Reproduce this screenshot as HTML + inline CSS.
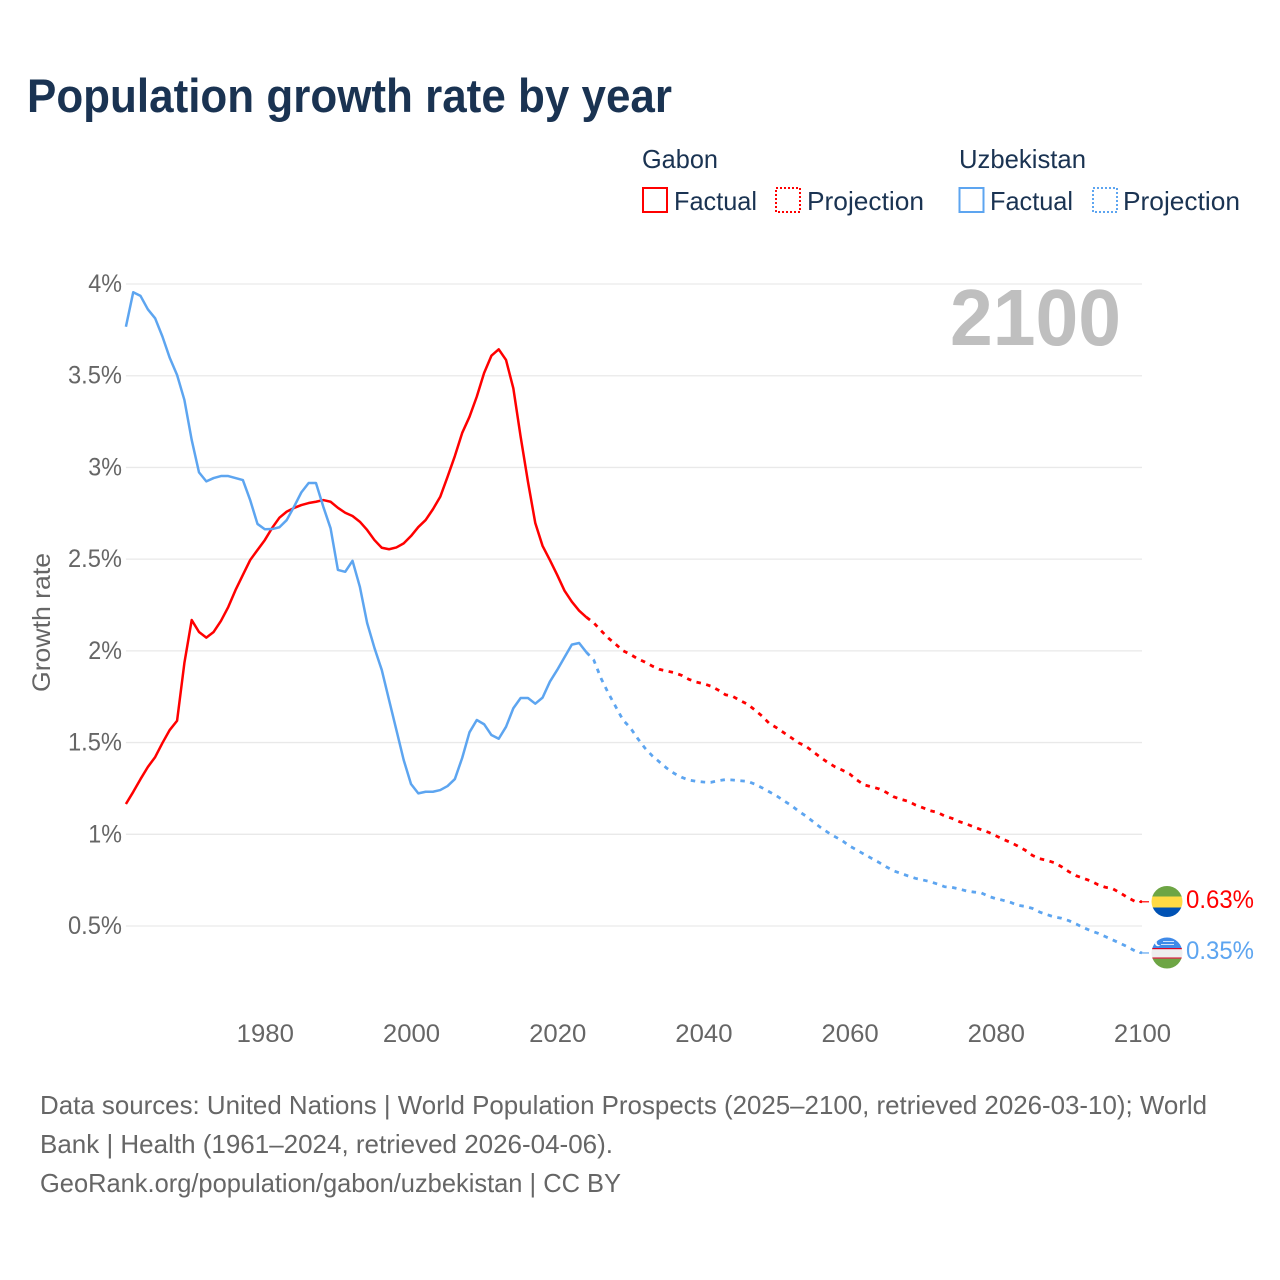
<!DOCTYPE html>
<html lang="en">
<head>
<meta charset="utf-8">
<title>Population growth rate by year</title>
<style>
  html, body { margin: 0; padding: 0; background: #ffffff; }
  svg { display: block; font-family: "Liberation Sans", sans-serif; }
</style>
</head>
<body>
<svg id="chart" xmlns="http://www.w3.org/2000/svg" width="1280" height="1280" viewBox="0 0 1280 1280">
  <rect x="0" y="0" width="1280" height="1280" fill="#ffffff"/>
  <text x="27" y="112" font-size="47" font-weight="700" fill="#1a3352" textLength="645" lengthAdjust="spacingAndGlyphs">Population growth rate by year</text>

  <g font-size="26" fill="#1a3352">
    <text x="642" y="168" textLength="76" lengthAdjust="spacingAndGlyphs">Gabon</text>
    <text x="959" y="168" textLength="127" lengthAdjust="spacingAndGlyphs">Uzbekistan</text>
    <rect x="643" y="188" width="24" height="24" fill="none" stroke="#ff0000" stroke-width="2"/>
    <text x="674" y="210" textLength="83" lengthAdjust="spacingAndGlyphs">Factual</text>
    <rect x="776" y="188" width="24" height="24" fill="none" stroke="#ff0000" stroke-width="2" stroke-dasharray="2 2"/>
    <text x="807" y="210" textLength="117" lengthAdjust="spacingAndGlyphs">Projection</text>
    <rect x="959.500" y="188" width="24" height="24" fill="none" stroke="#5da5f0" stroke-width="2"/>
    <text x="990" y="210" textLength="83" lengthAdjust="spacingAndGlyphs">Factual</text>
    <rect x="1093" y="188" width="24" height="24" fill="none" stroke="#5da5f0" stroke-width="2" stroke-dasharray="2 2"/>
    <text x="1123" y="210" textLength="117" lengthAdjust="spacingAndGlyphs">Projection</text>
  </g>

  <g id="grid"></g>
  <g id="yticks" font-size="25" fill="#666666" text-anchor="end"></g>
  <g id="xticks" font-size="25" fill="#666666" text-anchor="middle"></g>
  <text transform="translate(50 622.500) rotate(-90)" font-size="25" fill="#666666" text-anchor="middle" textLength="139" lengthAdjust="spacingAndGlyphs">Growth rate</text>
  <text x="1121" y="345" font-size="80" font-weight="700" fill="#bfbfbf" text-anchor="end" textLength="171" lengthAdjust="spacingAndGlyphs">2100</text>

  <g id="series"></g>

  <defs>
    <clipPath id="clip-gabon"><circle cx="1167" cy="901.500" r="15.500"/></clipPath>
    <clipPath id="clip-uzbekistan"><circle cx="1167" cy="953" r="15.500"/></clipPath>
  </defs>
  <g clip-path="url(#clip-gabon)">
    <rect x="1150" y="885" width="34" height="12" fill="#6da544"/>
    <rect x="1150" y="896.500" width="34" height="11" fill="#ffda44"/>
    <rect x="1150" y="907.500" width="34" height="11" fill="#0052b4"/>
  </g>
  <g clip-path="url(#clip-uzbekistan)">
    <rect x="1150" y="936" width="34" height="13" fill="#3f8ae8"/>
    <rect x="1150" y="948" width="34" height="11" fill="#eeeeee"/>
    <rect x="1150" y="948" width="34" height="1.200" fill="#d80027"/>
    <rect x="1150" y="957.500" width="34" height="1.200" fill="#d80027"/>
    <rect x="1150" y="958.700" width="34" height="11" fill="#6da544"/>
    <circle cx="1158" cy="943" r="3.200" fill="#ffffff"/>
    <circle cx="1159.500" cy="942.500" r="2.800" fill="#3f8ae8"/>
    <rect x="1163" y="941" width="11" height="1" fill="#cfe2fb"/>
    <rect x="1161" y="944" width="13" height="1" fill="#cfe2fb"/>
  </g>
  <text id="end-label-gabon" x="1186" y="908" font-size="25" fill="#ff0000" textLength="68" lengthAdjust="spacingAndGlyphs"></text>
  <text id="end-label-uzbekistan" x="1186" y="959" font-size="25" fill="#5da5f0" textLength="68" lengthAdjust="spacingAndGlyphs"></text>

  <g font-size="26" fill="#666666">
    <text x="40" y="1114" textLength="1167" lengthAdjust="spacingAndGlyphs">Data sources: United Nations | World Population Prospects (2025–2100, retrieved 2026-03-10); World</text>
    <text x="40" y="1153" textLength="573" lengthAdjust="spacingAndGlyphs">Bank | Health (1961–2024, retrieved 2026-04-06).</text>
    <text x="40" y="1192" textLength="581" lengthAdjust="spacingAndGlyphs">GeoRank.org/population/gabon/uzbekistan | CC BY</text>
  </g>
</svg>

<script>
const firstYear = 1961;
const projectionFirstYear = 2025;
const yTickValues = [4, 3.5, 3, 2.5, 2, 1.5, 1, 0.5];
const yTickLabels = ["4%", "3.5%", "3%", "2.5%", "2%", "1.5%", "1%", "0.5%"];
const xTickYears = [1980, 2000, 2020, 2040, 2060, 2080, 2100];
const xTickLabels = ["1980", "2000", "2020", "2040", "2060", "2080", "2100"];

const gabonFactual = [
  1.165, 1.231, 1.301, 1.367, 1.421, 1.498, 1.569, 1.619, 1.934, 2.168,
  2.103, 2.072, 2.103, 2.163, 2.239, 2.332, 2.414, 2.495, 2.550, 2.604,
  2.670, 2.726, 2.759, 2.779, 2.795, 2.806, 2.813, 2.822, 2.813, 2.780,
  2.753, 2.735, 2.704, 2.659, 2.604, 2.562, 2.554, 2.564, 2.586, 2.626,
  2.675, 2.713, 2.772, 2.840, 2.949, 3.062, 3.188, 3.276, 3.386, 3.515,
  3.609, 3.644, 3.586, 3.431, 3.167, 2.922, 2.697, 2.572, 2.495, 2.414,
  2.328, 2.268, 2.219, 2.183
];
const gabonProjection = [
  2.153, 2.110, 2.070, 2.036, 2.001, 1.981, 1.957, 1.939, 1.917, 1.899,
  1.890, 1.881, 1.867, 1.845, 1.830, 1.821, 1.808, 1.787, 1.761, 1.752,
  1.730, 1.710, 1.679, 1.645, 1.605, 1.581, 1.554, 1.527, 1.499, 1.481,
  1.450, 1.420, 1.392, 1.368, 1.350, 1.329, 1.296, 1.269, 1.259, 1.248,
  1.229, 1.205, 1.191, 1.180, 1.160, 1.145, 1.129, 1.120, 1.100, 1.087,
  1.069, 1.056, 1.040, 1.025, 1.011, 0.992, 0.973, 0.956, 0.936, 0.914,
  0.885, 0.867, 0.858, 0.845, 0.823, 0.796, 0.774, 0.760, 0.745, 0.725,
  0.711, 0.703, 0.681, 0.656, 0.635, 0.632
];
const uzbekistanFactual = [
  3.767, 3.955, 3.935, 3.862, 3.813, 3.713, 3.597, 3.504, 3.368, 3.150,
  2.973, 2.924, 2.942, 2.953, 2.953, 2.942, 2.931, 2.822, 2.692, 2.663,
  2.664, 2.674, 2.713, 2.786, 2.864, 2.915, 2.915, 2.786, 2.668, 2.441,
  2.431, 2.491, 2.350, 2.152, 2.016, 1.896, 1.732, 1.569, 1.405, 1.274,
  1.223, 1.232, 1.232, 1.241, 1.263, 1.301, 1.416, 1.556, 1.623, 1.600,
  1.541, 1.521, 1.586, 1.687, 1.743, 1.743, 1.712, 1.745, 1.832, 1.896,
  1.965, 2.034, 2.043, 1.992
];
const uzbekistanProjection = [
  1.950, 1.850, 1.769, 1.696, 1.623, 1.581, 1.523, 1.470, 1.428, 1.394,
  1.360, 1.332, 1.311, 1.296, 1.289, 1.285, 1.283, 1.292, 1.298, 1.296,
  1.292, 1.289, 1.274, 1.254, 1.232, 1.210, 1.183, 1.158, 1.127, 1.100,
  1.069, 1.038, 1.011, 0.987, 0.965, 0.936, 0.914, 0.891, 0.869, 0.847,
  0.823, 0.801, 0.787, 0.773, 0.760, 0.751, 0.742, 0.729, 0.714, 0.711,
  0.702, 0.691, 0.685, 0.681, 0.662, 0.649, 0.640, 0.629, 0.613, 0.607,
  0.596, 0.576, 0.562, 0.549, 0.542, 0.529, 0.511, 0.491, 0.474, 0.460,
  0.442, 0.424, 0.406, 0.387, 0.365, 0.353
];

const SVG_NS = "http://www.w3.org/2000/svg";
const RED = "#ff0000";
const BLUE = "#5da5f0";

function xScale(year) { return 1142 - (2100 - year) * 7.31; }
function yScale(value) { return 284 + (4 - value) * 183.43; }

function labelWidth(label) {
  let w = 0;
  for (const ch of label) {
    if (ch === "%") w += 19.4;
    else if (ch === ".") w += 6;
    else w += 14.3;
  }
  return w;
}

const grid = document.getElementById("grid");
yTickValues.forEach(function (v, i) {
  const line = document.createElementNS(SVG_NS, "line");
  
  
  line.setAttribute("x1", xScale(firstYear));
  line.setAttribute("x2", xScale(2100));
  line.setAttribute("y1", yScale(v));
  line.setAttribute("y2", yScale(v));
  line.setAttribute("stroke", "#e9e9e9");
  line.setAttribute("stroke-width", "1.3");
  grid.appendChild(line);

  const t = document.createElementNS(SVG_NS, "text");
  
  
  t.setAttribute("x", 122);
  t.setAttribute("y", yScale(v) + 8);
  t.setAttribute("textLength", labelWidth(yTickLabels[i]));
  t.setAttribute("lengthAdjust", "spacingAndGlyphs");
  t.textContent = yTickLabels[i];
  document.getElementById("yticks").appendChild(t);
});

xTickYears.forEach(function (year, i) {
  const t = document.createElementNS(SVG_NS, "text");
  
  
  t.setAttribute("x", xScale(year) + 0.5);
  t.setAttribute("y", 1042);
  t.setAttribute("textLength", labelWidth(xTickLabels[i]));
  t.setAttribute("lengthAdjust", "spacingAndGlyphs");
  t.textContent = xTickLabels[i];
  document.getElementById("xticks").appendChild(t);
});

function pathFrom(values, startYear) {
  return values.map(function (v, i) {
    return (i === 0 ? "M" : "L") + xScale(startYear + i).toFixed(2) + " " + yScale(v).toFixed(2);
  }).join(" ");
}

const seriesGroup = document.getElementById("series");

function addFactual(values, color) {
  const p = document.createElementNS(SVG_NS, "path");
  
  
  p.setAttribute("d", pathFrom(values, firstYear));
  p.setAttribute("fill", "none");
  p.setAttribute("stroke", color);
  p.setAttribute("stroke-width", "2.5");
  p.setAttribute("stroke-linejoin", "round");
  seriesGroup.appendChild(p);
}

function addProjection(values, lastFactual, color) {
  const p = document.createElementNS(SVG_NS, "path");
  
  
  p.setAttribute("d", pathFrom([lastFactual].concat(values), projectionFirstYear - 1));
  p.setAttribute("fill", "none");
  p.setAttribute("stroke", color);
  p.setAttribute("stroke-width", "2.8");
  p.setAttribute("stroke-dasharray", "4.5 5.5");
  p.setAttribute("stroke-linejoin", "round");
  seriesGroup.appendChild(p);

  const lastValue = values[values.length - 1];
  const c = document.createElementNS(SVG_NS, "line");
  
  
  c.setAttribute("x1", xScale(2100) - 3);
  c.setAttribute("x2", xScale(2100) + 7);
  c.setAttribute("y1", yScale(lastValue));
  c.setAttribute("y2", yScale(lastValue));
  c.setAttribute("stroke", color);
  c.setAttribute("stroke-width", "1.2");
  seriesGroup.appendChild(c);
}

addFactual(gabonFactual, RED);
addFactual(uzbekistanFactual, BLUE);
addProjection(gabonProjection, gabonFactual[gabonFactual.length - 1], RED);
addProjection(uzbekistanProjection, uzbekistanFactual[uzbekistanFactual.length - 1], BLUE);

document.getElementById("end-label-gabon").textContent =
  gabonProjection[gabonProjection.length - 1].toFixed(2) + "%";
document.getElementById("end-label-uzbekistan").textContent =
  uzbekistanProjection[uzbekistanProjection.length - 1].toFixed(2) + "%";
</script>
</body>
</html>
